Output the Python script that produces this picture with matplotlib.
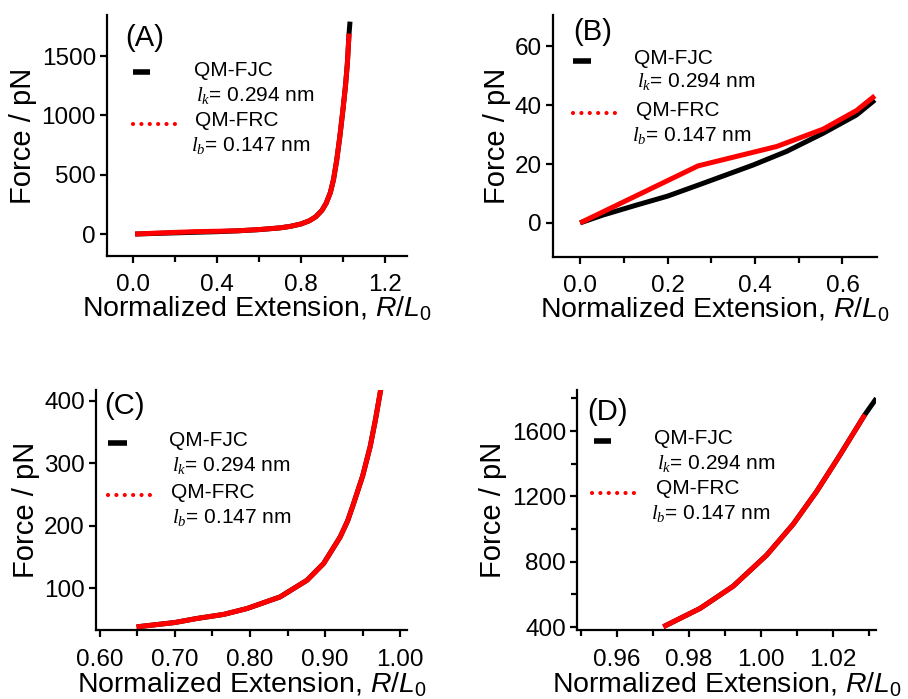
import numpy as np
import matplotlib
matplotlib.use("Agg")
import matplotlib.pyplot as plt
from matplotlib.ticker import MultipleLocator, FormatStrFormatter

plt.rcParams['font.family'] = ['Liberation Sans', 'DejaVu Sans']
plt.rcParams['mathtext.fontset'] = 'custom'
plt.rcParams['mathtext.rm'] = 'Liberation Sans'
plt.rcParams['mathtext.it'] = 'Liberation Sans:italic'
plt.rcParams['mathtext.tt'] = 'Liberation Serif:italic'

# panel A: full range
x_a = [0.01, 0.1, 0.2, 0.3, 0.4, 0.5, 0.6, 0.7, 0.75, 0.8, 0.84, 0.87, 0.9, 0.92,
       0.94, 0.955, 0.97, 0.985, 1.0, 1.012, 1.021, 1.029, 1.0335]
fjc_a = [0, 5, 10, 15, 20, 27, 37, 52, 65, 85, 112, 145, 200, 260,
         350, 460, 620, 820, 1050, 1250, 1440, 1690, 1790]
frc_a = [0, 7, 14, 20.5, 23.5, 28, 38, 52, 65, 85, 112, 145, 200, 260,
         350, 460, 620, 820, 1050, 1250, 1440, 1690, np.nan]

# panel B: low extension
fjc_x_b = [0, 0.053, 0.13, 0.2, 0.282, 0.396, 0.472, 0.556, 0.632, 0.674]
fjc_f_b = [0, 2.7, 6.1, 9.1, 13.5, 19.7, 24.3, 30.5, 36.7, 41.8]
frc_x_b = [0, 0.270, 0.450, 0.556, 0.632, 0.674]
frc_f_b = [0, 19.4, 26, 31.9, 38.2, 43.2]

# panel C
x_c = [0.649, 0.7, 0.729, 0.765, 0.796, 0.84, 0.876, 0.898, 0.92, 0.93, 0.938,
       0.95, 0.96, 0.967, 0.975]
fjc_c = [38, 45, 51.4, 58, 67.4, 86, 112.8, 139.6, 182, 208, 236,
         280, 327, 370, 425]
frc_c = [38, 45, 51.4, 58, 67.4, 86, 112.8, 139.6, 182, 208, 236,
         280, 327, 370, 425]

# panel D
x_d = [0.9729, 0.9831, 0.9923, 1.0016, 1.009, 1.0155, 1.0219, 1.0289, 1.0321]
fjc_d = [402, 514, 650, 840, 1030, 1230, 1450, 1700, 1800]
frc_d = [402, 514, 650, 840, 1030, 1230, 1450, 1700, np.nan]

W, H = 908, 699
fig = plt.figure(figsize=(W / 100, H / 100), dpi=100)

# axes boxes in pixels: left, top, right, bottom
boxes = {
    'A': (107, 15, 407, 256),
    'B': (553, 15, 877, 257),
    'C': (96, 390, 407, 630),
    'D': (577, 390, 876, 630),
}


def make_ax(key, xpad):
    l, t, r, b = boxes[key]
    ax = fig.add_axes([l / W, 1 - b / H, (r - l) / W, (b - t) / H])
    for s in ['top', 'right']:
        ax.spines[s].set_visible(False)
    for s in ['left', 'bottom']:
        ax.spines[s].set_linewidth(1.6)
    ax.tick_params(which='major', direction='out', length=5, width=1.6, labelsize=17.5)
    ax.tick_params(which='minor', direction='out', length=4, width=1.6)
    ax.tick_params(axis='x', which='major', pad=xpad)
    ax.tick_params(axis='y', which='major', pad=3)
    ax.set_ylabel('Force / pN', fontsize=21, labelpad=3)
    ax.set_xlabel(r'Normalized Extension, $\mathit{R/L_0}$', fontsize=20.5, labelpad=-1)
    return ax


def legend(ax, key, off):
    l, t, r, b = boxes[key]
    pw, ph = r - l, b - t

    def tx(px):
        return px / pw

    def ty(py):
        return 1 - py / ph

    d0, d1, dy, r0, r1, ry, fx, fy, kx, ky, rx, ryy, bx, by = off
    ax.plot([tx(d0), tx(d1)], [ty(dy), ty(dy)], color='black', lw=4, solid_capstyle='butt',
            transform=ax.transAxes, clip_on=False)
    ax.plot([tx(r0), tx(r1)], [ty(ry), ty(ry)], color='red', lw=3, linestyle=(0, (0.01, 2.0)),
            dash_capstyle='round', transform=ax.transAxes, clip_on=False)
    ax.text(tx(fx), ty(fy), 'QM-FJC', fontsize=15, va='center', transform=ax.transAxes)
    ax.text(tx(kx), ty(ky), r'$\mathtt{l_k}$= 0.294 nm', fontsize=15, va='center',
            transform=ax.transAxes)
    ax.text(tx(rx), ty(ryy), 'QM-FRC', fontsize=15, va='center', transform=ax.transAxes)
    ax.text(tx(bx), ty(by), r'$\mathtt{l_b}$= 0.147 nm', fontsize=15, va='center',
            transform=ax.transAxes)


def panel_label(ax, key, lbl, px, py):
    l, t, r, b = boxes[key]
    ax.text(px / (r - l), 1 - py / (b - t), lbl, fontsize=21, va='top', ha='left',
            transform=ax.transAxes)


lw = 3.6

# A
ax = make_ax('A', 8)
ax.plot(x_a, fjc_a, color='black', lw=lw, solid_capstyle='butt')
ax.plot(x_a, frc_a, color='red', lw=lw, solid_capstyle='butt')
ax.set_xlim(-0.124, 1.305)
ax.set_ylim(-185, 1846)
ax.xaxis.set_major_locator(MultipleLocator(0.4))
ax.xaxis.set_minor_locator(MultipleLocator(0.2))
ax.xaxis.set_major_formatter(FormatStrFormatter('%.1f'))
ax.yaxis.set_major_locator(MultipleLocator(500))
panel_label(ax, 'A', '(A)', 18, 9)
legend(ax, 'A', (26, 43, 57, 26, 68, 109, 87, 55, 89, 80, 88, 106, 84, 131))

# B
ax = make_ax('B', 8)
ax.plot(fjc_x_b, fjc_f_b, color='black', lw=lw, solid_capstyle='butt')
ax.plot(frc_x_b, frc_f_b, color='red', lw=lw, solid_capstyle='butt')
ax.set_xlim(-0.062, 0.679)
ax.set_ylim(-11.6, 70.7)
ax.xaxis.set_major_locator(MultipleLocator(0.2))
ax.xaxis.set_minor_locator(MultipleLocator(0.1))
ax.xaxis.set_major_formatter(FormatStrFormatter('%.1f'))
ax.yaxis.set_major_locator(MultipleLocator(20))
panel_label(ax, 'B', '(B)', 20, 3)
legend(ax, 'B', (20, 38, 46, 20, 63, 98, 81, 44, 84, 67, 83, 95, 79, 120))

# C
ax = make_ax('C', 9)
ax.plot(x_c, fjc_c, color='black', lw=lw, solid_capstyle='butt')
ax.plot(x_c, frc_c, color='red', lw=lw, solid_capstyle='butt')
ax.set_xlim(0.595, 1.009)
ax.set_ylim(33, 417.6)
ax.xaxis.set_major_locator(MultipleLocator(0.1))
ax.xaxis.set_minor_locator(MultipleLocator(0.05))
ax.xaxis.set_major_formatter(FormatStrFormatter('%.2f'))
ax.yaxis.set_major_locator(MultipleLocator(100))
panel_label(ax, 'C', '(C)', 8, 2)
legend(ax, 'C', (12, 31, 53, 12, 54, 105, 73, 51, 76, 75, 75, 103, 76, 127))

# D
ax = make_ax('D', 9)
ax.plot(x_d, fjc_d, color='black', lw=lw, solid_capstyle='butt')
ax.plot(x_d, frc_d, color='red', lw=lw, solid_capstyle='butt')
ax.set_xlim(0.9489, 1.032)
ax.set_ylim(382, 1851)
ax.xaxis.set_major_locator(MultipleLocator(0.02))
ax.xaxis.set_minor_locator(MultipleLocator(0.01))
ax.xaxis.set_major_formatter(FormatStrFormatter('%.2f'))
ax.yaxis.set_major_locator(MultipleLocator(400))
ax.yaxis.set_minor_locator(MultipleLocator(200))
panel_label(ax, 'D', '(D)', 10, 8)
legend(ax, 'D', (17, 34, 51, 15, 59, 103, 77, 48, 80, 73, 79, 98, 74, 123))

fig.savefig('out.png', dpi=100)
